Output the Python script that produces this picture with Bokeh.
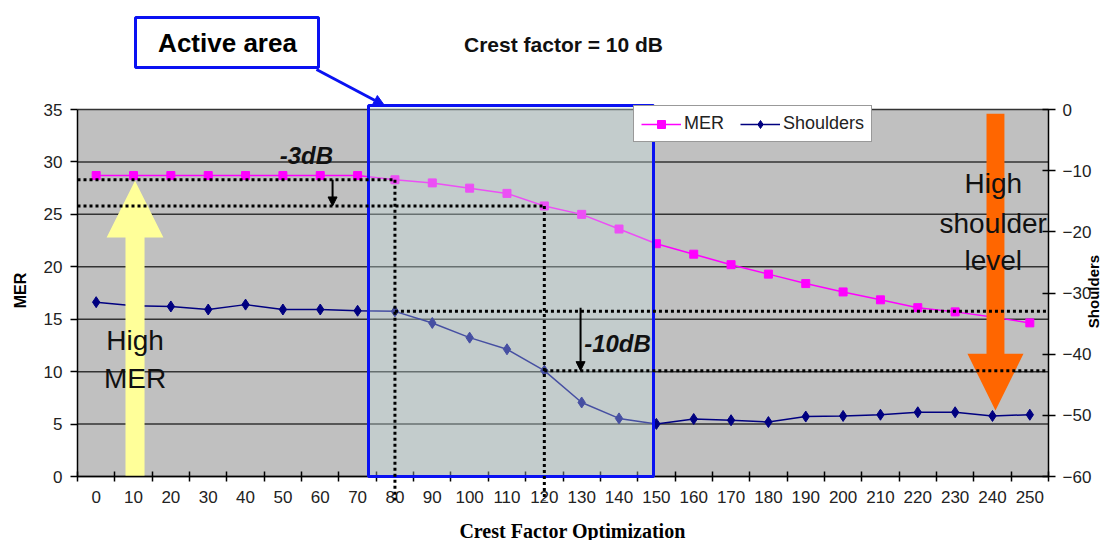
import math
from bokeh.plotting import figure
from bokeh.models import (Range1d, LinearAxis, FixedTicker, BoxAnnotation, Label,
                          Arrow, NormalHead, Legend, LegendItem)
from bokeh.embed import file_html
from bokeh.resources import INLINE

# ---------------- data ----------------
categories = [0, 10, 20, 30, 40, 50, 60, 70, 80, 90, 100, 110, 120,
              130, 140, 150, 160, 170, 180, 190, 200, 210, 220, 230, 240, 250]
mer = [28.7, 28.7, 28.7, 28.7, 28.7, 28.7, 28.7, 28.7, 28.3, 28.0, 27.5, 27.0, 25.8,
       25.0, 23.6, 22.2, 21.2, 20.2, 19.3, 18.4, 17.6, 16.85, 16.1, 15.7, 15.2, 14.65]
shoulders = [-31.5, -32.1, -32.2, -32.7, -31.9, -32.7, -32.7, -32.9, -33.0, -34.9, -37.3, -39.2, -42.7,
             -47.9, -50.5, -51.4, -50.6, -50.8, -51.1, -50.2, -50.1, -49.9, -49.5, -49.5, -50.1, -49.9]
mer_ticks = [0, 5, 10, 15, 20, 25, 30, 35]
shoulder_ticks = [0, -10, -20, -30, -40, -50, -60]
series_names = ["MER", "Shoulders"]

# ---------------- styles / layout ----------------
SANS = "Liberation Sans"
SERIF = "Liberation Serif"
MER_COLOR = "#ff00ff"
SH_COLOR = "#000080"
BLUE = "#0a12f2"

W, H = 1102, 540
PX_L, PX_R = 77, 1048      # pixel edges of the grey chart area
PX_T, PX_B = 109, 476

step = categories[1] - categories[0]
x_lo = categories[0] - step / 2
x_hi = categories[-1] + step / 2
boundaries = [c - step / 2 for c in categories] + [x_hi]
mer_lo, mer_hi = mer_ticks[0], mer_ticks[-1]
sh_lo, sh_hi = shoulder_ticks[-1], shoulder_ticks[0]

# the frame covers the whole canvas; axes are pinned to the grey area's edges
xpp = (x_hi - x_lo) / (PX_R - PX_L)
mpp = (mer_hi - mer_lo) / (PX_B - PX_T)
spp = (sh_hi - sh_lo) / (PX_B - PX_T)
x_start, x_end = x_lo - PX_L * xpp, x_hi + (W - PX_R) * xpp
y_start, y_end = mer_lo - (H - PX_B) * mpp, mer_hi + PX_T * mpp
s_start, s_end = sh_lo - (H - PX_B) * spp, sh_hi + PX_T * spp


def fx(px):
    return x_start + px * xpp


def fy(py):
    return y_end - py * mpp


p = figure(width=W, height=H, output_backend="svg", toolbar_location=None,
           x_range=Range1d(x_start, x_end), y_range=Range1d(y_start, y_end),
           min_border=0)
p.title = None
p.extra_y_ranges = {"sh": Range1d(s_start, s_end)}
p.background_fill_color = "white"
p.border_fill_color = "white"
p.outline_line_color = None
p.xgrid.visible = False
p.ygrid.visible = False

# grey chart area and its horizontal grid lines
p.quad(left=x_lo, right=x_hi, bottom=mer_lo, top=mer_hi, fill_color="#c0c0c0",
       line_color=None, level="image")
p.segment(x0=[x_lo] * len(mer_ticks), x1=[x_hi] * len(mer_ticks), y0=mer_ticks, y1=mer_ticks,
          line_color="#333333", line_width=1.5, level="underlay")

# x axis: labels at category centres, ticks at category boundaries
xa = p.xaxis[0]
xa.fixed_location = mer_lo
xa.bounds = (x_lo, x_hi)
xa.ticker = FixedTicker(ticks=categories, minor_ticks=boundaries)
xa.major_tick_in = 0
xa.major_tick_out = 0
xa.minor_tick_in = 5
xa.minor_tick_out = 5
xa.minor_tick_line_color = "black"
xa.minor_tick_line_width = 1.5
xa.axis_line_color = "black"
xa.axis_line_width = 1.5
xa.major_label_standoff = 9
xa.major_label_text_font = SANS
xa.major_label_text_font_size = "17px"
xa.major_label_text_color = "#222222"

ya = p.yaxis[0]
ya.fixed_location = x_lo
ya.bounds = (mer_lo, mer_hi)
ya.ticker = FixedTicker(ticks=mer_ticks, minor_ticks=[])
ya.major_tick_in = 0
ya.major_tick_out = 7
ya.major_tick_line_color = "black"
ya.major_tick_line_width = 1.5
ya.axis_line_color = "black"
ya.axis_line_width = 1.5
ya.major_label_standoff = 8
ya.major_label_text_font = SANS
ya.major_label_text_font_size = "17px"
ya.major_label_text_color = "#222222"

ra = LinearAxis(y_range_name="sh", bounds=(sh_lo, sh_hi), fixed_location=x_hi,
                ticker=FixedTicker(ticks=shoulder_ticks, minor_ticks=[]))
ra.major_tick_in = 6
ra.major_tick_out = 7
ra.major_tick_line_color = "black"
ra.major_tick_line_width = 1.5
ra.axis_line_color = "black"
ra.axis_line_width = 1.5
ra.major_label_standoff = 7
ra.major_label_text_font = SANS
ra.major_label_text_font_size = "17px"
ra.major_label_text_color = "#222222"
p.add_layout(ra, "right")

# axis titles
p.add_layout(Label(x=fx(20), y=fy(290), text="MER", angle=math.pi / 2, text_align="center",
                   text_baseline="middle", text_font=SANS, text_font_style="bold",
                   text_font_size="16px", text_color="black"))
p.add_layout(Label(x=fx(1093), y=fy(291), text="Shoulders", angle=math.pi / 2, text_align="center",
                   text_baseline="middle", text_font=SANS, text_font_style="bold",
                   text_font_size="15px", text_color="black"))
p.add_layout(Label(x=fx(572), y=fy(530), text="Crest Factor Optimization", text_align="center",
                   text_baseline="middle", text_font=SERIF, text_font_style="bold",
                   text_font_size="20px", text_color="black"))

# ---------------- series ----------------
l1 = p.line(categories, mer, line_color=MER_COLOR, line_width=1.5)
s1 = p.scatter(categories, mer, marker="square", size=8, fill_color=MER_COLOR, line_color=MER_COLOR)
l2 = p.line(categories, shoulders, y_range_name="sh", line_color=SH_COLOR, line_width=1.5)
s2 = p.scatter(categories, shoulders, y_range_name="sh", marker="diamond", size=11,
               fill_color=SH_COLOR, line_color=SH_COLOR)


# ---------------- big arrows ----------------
def arrow_shape(xc, half_shaft, half_head, y_tail, y_base, y_tip):
    xs = [xc - half_shaft, xc - half_shaft, xc - half_head, xc, xc + half_head, xc + half_shaft, xc + half_shaft]
    ys = [y_tail, y_base, y_base, y_tip, y_base, y_base, y_tail]
    return xs, ys


yx, yy = arrow_shape(10.4, 2.55, 7.6, 0, 22.8, 28.2)
p.patch(yx, yy, fill_color="#ffff99", line_color=None)
ox, oy = arrow_shape(240.8, 2.4, 7.5, 34.6, 11.7, 6.3)
p.patch(ox, oy, fill_color="#ff6600", line_color=None)

# ---------------- legend ----------------
legend = Legend(items=[LegendItem(label=series_names[0], renderers=[l1, s1]),
                       LegendItem(label=series_names[1], renderers=[l2, s2])],
                location=(633, 398), orientation="horizontal", margin=0, padding=7,
                spacing=16, glyph_width=40, glyph_height=20, label_height=20, label_standoff=3,
                label_text_font=SANS, label_text_font_size="18px", label_text_color="#222222",
                border_line_color="#333333", border_line_width=1.2,
                background_fill_color="white", background_fill_alpha=1)
p.add_layout(legend)

# ---------------- active area ----------------
p.add_layout(BoxAnnotation(left=fx(368), right=fx(653), bottom=mer_lo, top=fy(105),
                           fill_color="#c8e2e2", fill_alpha=0.35,
                           line_color=BLUE, line_width=3, line_alpha=1))
p.add_layout(BoxAnnotation(left=fx(135), right=fx(318), bottom=fy(67), top=fy(17),
                           fill_color="white", fill_alpha=1,
                           line_color=BLUE, line_width=3, line_alpha=1))
p.add_layout(Label(x=fx(227), y=fy(42), text="Active area", text_align="center", text_baseline="middle",
                   text_font=SANS, text_font_style="bold", text_font_size="26px", text_color="black"))
p.add_layout(Arrow(x_start=fx(316), y_start=fy(69), x_end=fx(384), y_end=fy(105), line_color=BLUE,
                   line_width=3, end=NormalHead(size=11, fill_color=BLUE, line_color=BLUE)))
p.add_layout(Label(x=fx(563), y=fy(44), text="Crest factor = 10 dB", text_align="center",
                   text_baseline="middle", text_font=SANS, text_font_style="bold",
                   text_font_size="21px", text_color="#111111"))

# ---------------- dotted reference lines ----------------
i80 = categories.index(80)
i120 = categories.index(120)
below_axis = fy(500)
dot = dict(line_color="black", line_width=3, line_dash="3 3", end=None)
p.add_layout(Arrow(x_start=x_lo, y_start=mer[i80], x_end=categories[i80], y_end=mer[i80], **dot))
p.add_layout(Arrow(x_start=x_lo, y_start=mer[i120], x_end=categories[i120], y_end=mer[i120], **dot))
p.add_layout(Arrow(x_start=categories[i80], y_start=mer[i80], x_end=categories[i80], y_end=below_axis, **dot))
p.add_layout(Arrow(x_start=categories[i120], y_start=mer[i120], x_end=categories[i120], y_end=below_axis, **dot))
p.add_layout(Arrow(x_start=categories[i80], y_start=shoulders[i80], x_end=x_hi, y_end=shoulders[i80],
                   y_range_name="sh", **dot))
p.add_layout(Arrow(x_start=categories[i120], y_start=shoulders[i120], x_end=x_hi, y_end=shoulders[i120],
                   y_range_name="sh", **dot))

# small drop arrows
p.add_layout(Arrow(x_start=63.3, y_start=mer[i80], x_end=63.3, y_end=mer[i120], line_color="black",
                   line_width=2, end=NormalHead(size=9, fill_color="black", line_color="black")))
p.add_layout(Arrow(x_start=129.7, y_start=shoulders[i80] + 0.6, x_end=129.7, y_end=shoulders[i120],
                   y_range_name="sh", line_color="black", line_width=2,
                   end=NormalHead(size=9, fill_color="black", line_color="black")))

bi = dict(text_font=SANS, text_font_style="bold italic", text_font_size="24px", text_color="#111111",
          text_align="center", text_baseline="middle")
p.add_layout(Label(x=56.3, y=30.6, text="-3dB", **bi))
p.add_layout(Label(x=139.6, y=12.7, text="-10dB", **bi))

big = dict(text_font=SANS, text_font_size="28px", text_color="#111111",
           text_align="center", text_baseline="middle")
p.add_layout(Label(x=10.4, y=12.97, text="High", **big))
p.add_layout(Label(x=10.4, y=9.35, text="MER", **big))
p.add_layout(Label(x=240.2, y=27.94, text="High", **big))
p.add_layout(Label(x=240.2, y=24.13, text="shoulder", **big))
p.add_layout(Label(x=240.2, y=20.6, text="level", **big))

open("out.html", "w").write(file_html(p, INLINE))
